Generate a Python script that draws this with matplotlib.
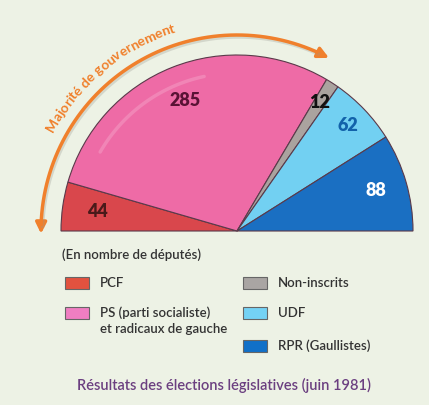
import numpy as np
import matplotlib.pyplot as plt
from matplotlib.patches import Wedge, Rectangle, FancyArrowPatch

partis = ['PCF', 'PS (parti socialiste)\net radicaux de gauche', 'Non-inscrits', 'UDF', 'RPR (Gaullistes)']
sieges = [44, 285, 12, 62, 88]
couleurs = ['#d9474c', '#ee6ba6', '#aaa39f', '#72d0f2', '#1a6fc2']
couleurs_legende = ['#e2523f', '#f07ec2', '#a9a5a3', '#74d2f5', '#1170c8']
couleurs_chiffres = ['#4a1a1a', '#5a1235', '#111111', '#1262aa', '#ffffff']
titre = 'Résultats des élections législatives (juin 1981)'
fleche_texte = 'Majorité de gouvernement'

plt.rcParams['font.family'] = ['Lato', 'DejaVu Sans']

W, H = 429, 405
fig = plt.figure(figsize=(W / 100, H / 100), dpi=100)
fig.patch.set_facecolor('#edf2e5')
ax = fig.add_axes([0, 0, 1, 1])
ax.set_xlim(0, W)
ax.set_ylim(0, H)
ax.set_aspect('equal')
ax.axis('off')

# centre of the hemicycle (pixel coords, y up)
cx, cy = 237, H - 231
R = 176

total = sum(sieges)
a = 180.0
for n, c, tc, rf in zip(sieges, couleurs, couleurs_chiffres, [0.8, 0.8, 0.87, 0.87, 0.82]):
    da = n / total * 180
    ax.add_patch(Wedge((cx, cy), R, a - da, a, facecolor=c, edgecolor='#5a3a4a', linewidth=0.8))
    mid = np.radians(a - da / 2)
    ax.text(cx + rf * R * np.cos(mid), cy + rf * R * np.sin(mid), str(n),
            ha='center', va='center', fontsize=13, fontweight='heavy', color=tc)
    a -= da

# faint gloss on the PS sector
t = np.radians(np.linspace(150, 102, 40))
ax.plot(cx + 158 * np.cos(t), cy + 158 * np.sin(t), color='white', alpha=0.18, lw=2.5, solid_capstyle='round')

# orange arrow "Majorité de gouvernement"
ra = 196
orange = '#f0802c'
t = np.radians(np.linspace(178, 66, 200))
ax.plot(cx + ra * np.cos(t) + 1.5, cy + ra * np.sin(t) - 2, color='#999990', alpha=0.3, lw=2.5)
ax.plot(cx + ra * np.cos(t), cy + ra * np.sin(t), color=orange, lw=2.5)
for t0, t1 in [(178, 180.8), (66, 62)]:
    p0 = (cx + ra * np.cos(np.radians(t0)), cy + ra * np.sin(np.radians(t0)))
    p1 = (cx + ra * np.cos(np.radians(t1)), cy + ra * np.sin(np.radians(t1)))
    ax.add_patch(FancyArrowPatch(p0, p1, arrowstyle='-|>', mutation_scale=16,
                                 color=orange, lw=2.5, shrinkA=0, shrinkB=0))

# curved text along the arrow
fig.canvas.draw()
rend = fig.canvas.get_renderer()
fs = 10
tmp = ax.text(0, 0, '', fontsize=fs, fontweight='bold')
prop = tmp.get_fontproperties()
tmp.remove()
rt = 212
start = np.radians(152)
for i, ch in enumerate(fleche_texte):
    if ch == ' ':
        continue
    wr = rend.get_text_width_height_descent(fleche_texte[:i + 1], prop, ismath=False)[0]
    wc = rend.get_text_width_height_descent(ch, prop, ismath=False)[0]
    s = wr - wc / 2
    th = start - s / rt
    ax.text(cx + rt * np.cos(th), cy + rt * np.sin(th), ch, fontsize=fs, fontweight='bold',
            color=orange, ha='center', va='center', rotation=np.degrees(th) - 90,
            rotation_mode='anchor')

# legend
txt = '#333333'
ax.text(62, H - 255, '(En nombre de députés)', fontsize=9.5, fontweight='semibold', color=txt,
        ha='left', va='center')
pos = [(65, 283), (65, 313), (243, 283), (243, 313), (243, 346)]
for (x, y), lab, c in zip(pos, partis, couleurs_legende):
    ax.add_patch(Rectangle((x, H - y - 6), 24, 12, facecolor=c, edgecolor='#666666', lw=0.8))
    if '\n' in lab:
        ax.text(x + 35, H - y + 7, lab, fontsize=9.5, fontweight='semibold', color=txt,
                ha='left', va='top', linespacing=1.45)
    else:
        ax.text(x + 35, H - y, lab, fontsize=9.5, fontweight='semibold', color=txt,
                ha='left', va='center')

ax.text(224, H - 385, titre, fontsize=10.5, fontweight='semibold', color='#6b3f80',
        ha='center', va='center')

fig.savefig('out.png', dpi=100, facecolor=fig.get_facecolor())
